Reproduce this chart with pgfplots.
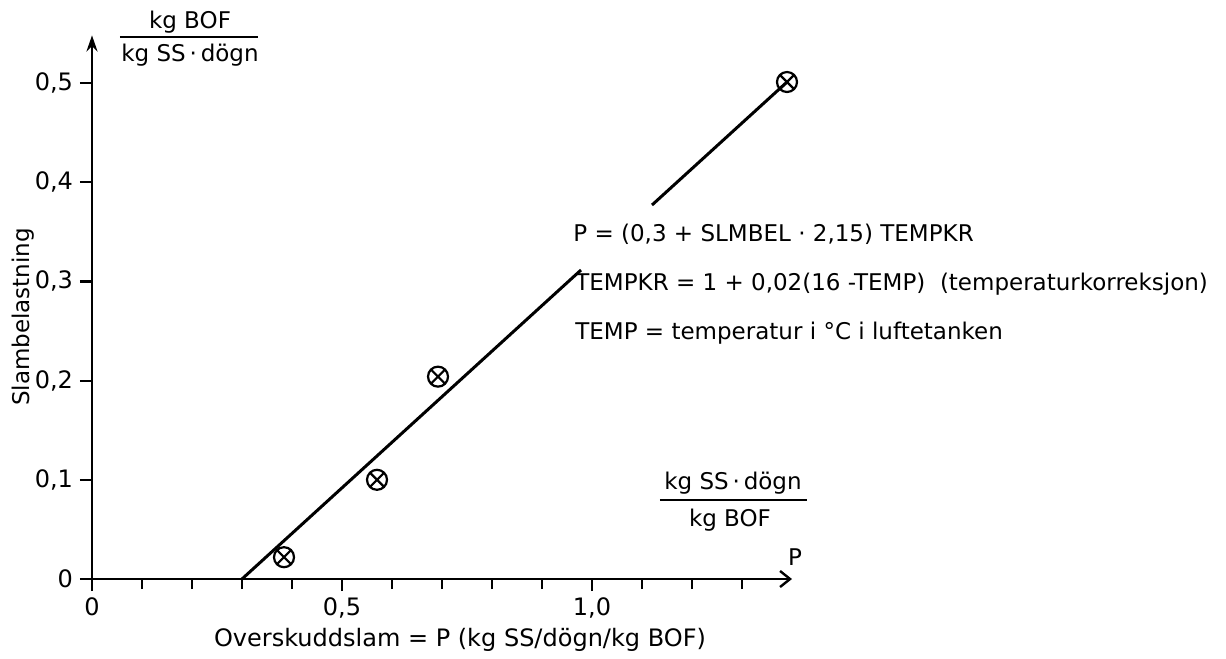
\documentclass[border=0pt]{standalone}
\usepackage{fontspec}
\setmainfont{DejaVu Sans}
\usepackage{pgfplots}
\pgfplotsset{compat=1.18}
\usetikzlibrary{arrows.meta,plotmarks}
\begin{document}
\begin{tikzpicture}[font=\fontsize{11.5bp}{14bp}\selectfont]
\useasboundingbox (0,0) rectangle (613bp,-329.5bp);
\begin{axis}[
  at={(46bp,-289.5bp)}, anchor=south west,
  scale only axis, width=350bp, height=271.8bp,
  xmin=0, xmax=1.40, ymin=0, ymax=0.548,
  enlargelimits=false, clip=false,
  axis x line=bottom, axis y line=left,
  x axis line style={line width=1.2bp, -{Straight Barb[length=5bp,width=8bp,line width=1.2bp]}},
  y axis line style={line width=1.2bp, -{Stealth[length=8bp,width=5.5bp]}},
  tick align=outside,
  major tick length=6bp, minor tick length=5bp,
  every tick/.style={line width=1.1bp, black},
  every minor tick/.style={line width=1.1bp, black},
  xtick={0,0.5,1}, xticklabels={0,{0,5},{1,0}},
  minor xtick={0.1,0.2,0.3,0.4,0.6,0.7,0.8,0.9,1.1,1.2,1.3},
  ytick={0,0.1,0.2,0.3,0.4,0.5},
  yticklabels={0,{0,1},{0,2},{0,3},{0,4},{0,5}},
  /pgf/number format/assume math mode=true,
  ticklabel style={font=\fontsize{12bp}{14bp}\selectfont},
]
\addplot[black, line width=1.5bp] coordinates {(0.3,0) (0.978,0.3115)};
\addplot[black, line width=1.5bp] coordinates {(1.12,0.377) (1.39,0.501)};
\addplot[only marks, mark=otimes, mark size=5bp, mark options={line width=1.1bp, black}]
  coordinates {(0.384,0.022) (0.57,0.100) (0.692,0.204) (1.39,0.501)};
\end{axis}
\begin{scope}[x=0.5bp,y=-0.5bp]
  % y unit fraction
  \node at (190,22) {kg BOF};
  \draw[line width=1bp] (120,37) -- (258,37);
  \node at (190,55) {kg SS\,·\,dögn};
  % x unit fraction
  \node at (733,483) {kg SS\,·\,dögn};
  \draw[line width=1bp] (660,500) -- (807,500);
  \node at (730,520) {kg BOF};
  \node at (795,557) {P};
  % y label
  \node[rotate=90] at (23,317) {Slambelastning};
  % x label
  \node[font=\fontsize{12bp}{14bp}\selectfont] at (460,640) {Overskuddslam = P (kg SS/dögn/kg BOF)};
  % annotations
  \node[anchor=base west, inner sep=0pt] at (573,242) {P = (0,3 + SLMBEL · 2,15) TEMPKR};
  \node[anchor=base west, inner sep=0pt] at (575,291) {TEMPKR = 1 + 0,02(16 -TEMP)\ \ (temperaturkorreksjon)};
  \node[anchor=base west, inner sep=0pt] at (575,340) {TEMP = temperatur i °C i luftetanken};
\end{scope}
\end{tikzpicture}
\end{document}
